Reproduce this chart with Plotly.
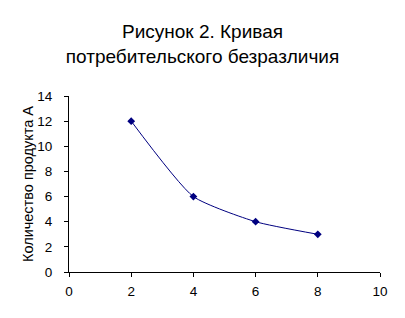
import plotly.graph_objects as go

x_vals = [2, 4, 6, 8]
y_vals = [12, 6, 4, 3]
x_ticks = [0, 2, 4, 6, 8, 10]
y_ticks = [0, 2, 4, 6, 8, 10, 12, 14]
title_text = "Рисунок 2. Кривая<br>потребительского безразличия"
y_title = "Количество продукта А"

fig = go.Figure(go.Scatter(
    x=x_vals, y=y_vals, mode="lines+markers",
    line=dict(color="#000080", width=1, shape="spline", smoothing=0.55),
    marker=dict(symbol="diamond", size=6, color="#000080"),
))

font = "Liberation Sans, Arial, sans-serif"
fig.update_layout(
    width=405, height=318,
    margin=dict(l=69, r=25, t=96, b=46),
    paper_bgcolor="white", plot_bgcolor="white",
    showlegend=False,
    title=dict(text=title_text, x=0.5, xanchor="center",
               yref="container", y=1 - 38 / 318, yanchor="middle",
               font=dict(family=font, size=19, color="black")),
    font=dict(family=font, size=13.5, color="black"),
    xaxis=dict(range=[0, 10], tickvals=x_ticks, showgrid=False, zeroline=False,
               showline=True, linecolor="black", linewidth=1,
               ticks="outside", ticklen=4, tickcolor="black", tickwidth=1,
               ticklabelstandoff=3, tickfont=dict(size=13.5)),
    yaxis=dict(range=[0, 14], tickvals=y_ticks, showgrid=False, zeroline=False,
               showline=True, linecolor="black", linewidth=1,
               ticks="outside", ticklen=4, tickcolor="black", tickwidth=1,
               ticklabelstandoff=9, tickfont=dict(size=13.5),
               title=dict(text=y_title, font=dict(size=14.5), standoff=0)),
)

fig.write_html("out.html")
